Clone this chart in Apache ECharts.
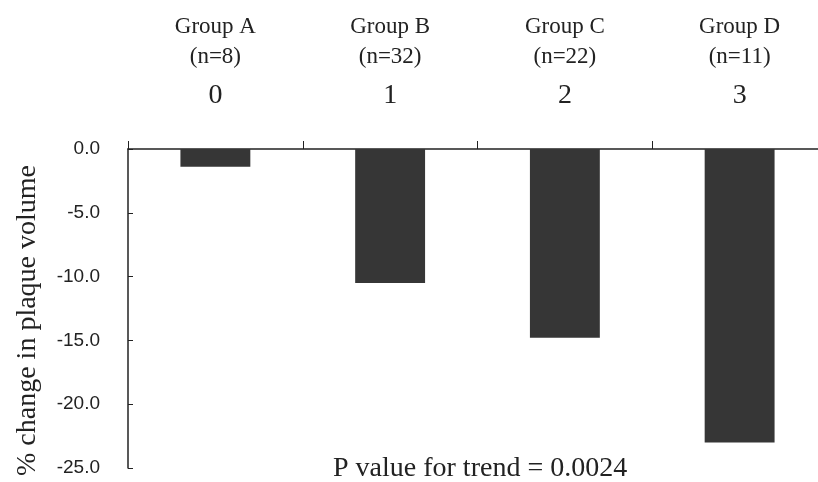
<!DOCTYPE html>
<html><head><meta charset="utf-8">
<script src="https://cdn.jsdelivr.net/npm/echarts@6/dist/echarts.min.js"></script>
<style>html,body{margin:0;padding:0;background:#fff}#c{width:818px;height:482px}</style>
</head><body><div id="c"></div>
<script>
const groups = ['Group A', 'Group B', 'Group C', 'Group D'];
const counts = ['(n=8)', '(n=32)', '(n=22)', '(n=11)'];
const codes = ['0', '1', '2', '3'];
const values = [-1.4, -10.5, -14.8, -23.0];
const yTicks = [0, -5, -10, -15, -20, -25];
const yTitle = '% change in plaque volume';
const note = 'P value for trend = 0.0024';

const chart = echarts.init(document.getElementById('c'));
const serif = '"Liberation Serif", "DejaVu Serif", serif';
chart.setOption({
  animation: false,
  backgroundColor: '#fff',
  grid: { left: 128, top: 149, right: -9, height: 319, outerBoundsMode: 'none', containLabel: false },
  xAxis: {
    type: 'category',
    position: 'top',
    data: codes,
    boundaryGap: true,
    axisLine: { lineStyle: { color: '#222', width: 1.5 } },
    axisTick: { show: true, inside: false, length: 8, lineStyle: { color: '#222' } },
    axisLabel: {
      margin: 29,
      formatter: function (v, i) { return '{g|' + groups[i] + '}\n{g|' + counts[i] + '}\n{n|' + v + '}'; },
      rich: {
        g: { fontFamily: serif, fontSize: 23, color: '#222', lineHeight: 30, align: 'center' },
        n: { fontFamily: serif, fontSize: 28, color: '#222', lineHeight: 48, align: 'center' }
      }
    }
  },
  yAxis: {
    type: 'value',
    min: -25, max: 0, interval: 5,
    name: yTitle,
    nameLocation: 'middle',
    nameGap: 86,
    nameTextStyle: { fontFamily: serif, fontSize: 28, color: '#222', padding: [0, 24, 0, 0] },
    axisLine: { show: true, lineStyle: { color: '#222', width: 1.5 } },
    axisTick: { show: true, inside: true, length: 5, lineStyle: { color: '#222' } },
    splitLine: { show: false },
    axisLabel: {
      margin: 28,
      fontFamily: '"Liberation Sans", Arial, sans-serif',
      fontSize: 19,
      color: '#222',
      formatter: function (v) { return yTicks.indexOf(v) >= 0 ? v.toFixed(1) : ''; }
    }
  },
  series: [{
    type: 'bar',
    data: values,
    barWidth: '40%',
    itemStyle: { color: '#363636' }
  }],
  graphic: [{
    type: 'text',
    left: 333,
    top: 455,
    style: { text: note, fontFamily: serif, fontSize: 28, fill: '#222' }
  }]
});
</script></body></html>
